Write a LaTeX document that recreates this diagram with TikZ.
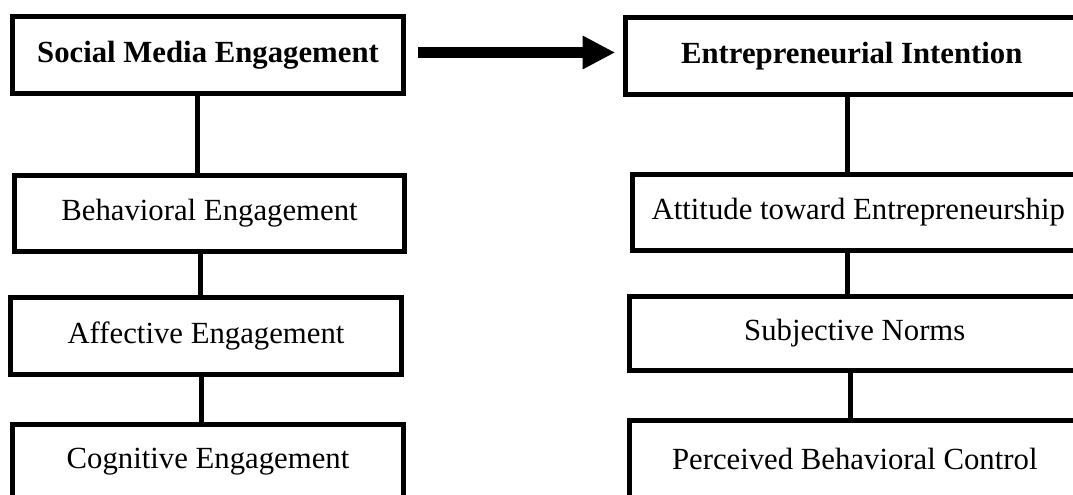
\documentclass[tikz,border=0pt]{standalone}
\usepackage{fontspec}
\setmainfont{Liberation Serif}
\usetikzlibrary{arrows.meta}
\begin{document}
\begin{tikzpicture}[x=1pt,y=-1pt,
  box/.style={draw=black, line width=5pt, inner sep=0pt, font=\fontsize{30.75}{36}\selectfont},
  boldbox/.style={box, font=\fontsize{30.75}{36}\selectfont\bfseries},
  link/.style={draw=black, line width=5pt},
  bigarrow/.style={draw=black, line width=11pt, -{Triangle[length=32pt,width=34pt,line width=0pt]}}]
\useasboundingbox (0,0) rectangle (1073,495);
\clip (0,0) rectangle (1073,495);
% left column
\node[boldbox, minimum width=391pt, minimum height=76.5pt] (sme) at (208,54.75) {Social Media Engagement};
\node[box, minimum width=390pt, minimum height=76pt] (beh) at (209.5,213) {Behavioral Engagement};
\node[box, minimum width=391pt, minimum height=77pt] (aff) at (206,336) {Affective Engagement};
\node[box, minimum width=391pt, minimum height=76pt] (cog) at (208,462) {Cognitive Engagement};
% right column
\node[boldbox, minimum width=452.5pt, minimum height=77pt] (ei) at (851.75,56) {Entrepreneurial Intention};
\node[box, minimum width=452pt, minimum height=76pt] (att) at (858.25,212) {Attitude toward Entrepreneurship};
\node[box, minimum width=451pt, minimum height=74.5pt] (sub) at (854.75,333.25) {Subjective Norms};
\node[box, minimum width=451pt, minimum height=76.5pt] (pbc) at (854.75,458.75) {Perceived Behavioral Control};
% connectors
\draw[link] ([xshift=-10.5pt]sme.south) coordinate (c1) -- (c1 |- beh.north);
\draw[link] ([xshift=-9.5pt]beh.south) coordinate (c2) -- (c2 |- aff.north);
\draw[link] ([xshift=-5pt]aff.south) coordinate (c3) -- (c3 |- cog.north);
\draw[link] ([xshift=-4.25pt]ei.south) coordinate (c4) -- (c4 |- att.north);
\draw[link] ([xshift=-10.75pt]att.south) coordinate (c5) -- (c5 |- sub.north);
\draw[link] ([xshift=-4.75pt]sub.south) coordinate (c6) -- (c6 |- pbc.north);
% main arrow
\coordinate (as) at ([xshift=11.5pt,yshift=2.25pt]sme.east);
\path (as -| ei.west) ++(-8.5pt,0) coordinate (ae);
\draw[bigarrow] (as) -- (ae);
\end{tikzpicture}
\end{document}
